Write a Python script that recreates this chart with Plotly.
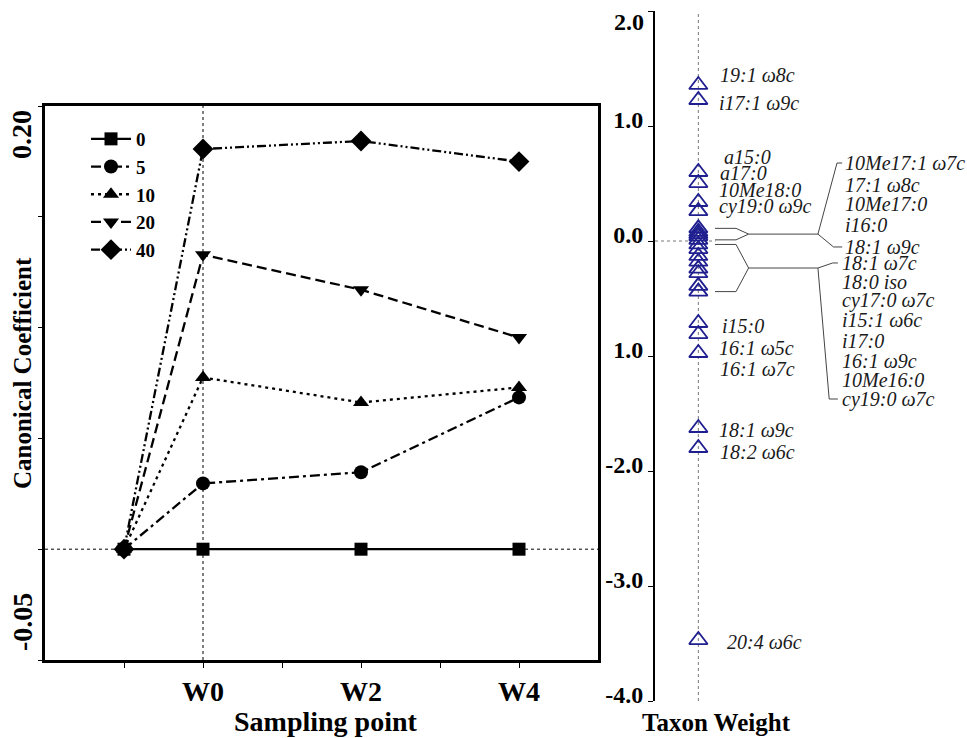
import plotly.graph_objects as go

# ---------------- Left panel data ----------------
x_positions = [-1, 0, 2, 4]
x_tick_vals = [-1, 0, 1, 2, 3, 4]
x_tick_text = ["", "W0", "", "W2", "", "W4"]
series_names = ["0", "5", "10", "20", "40"]
s0 = [0.0, 0.0, 0.0, 0.0]
s5 = [0.0, 0.0297, 0.0347, 0.0685]
s10 = [0.0, 0.0775, 0.0662, 0.0730]
s20 = [0.0, 0.1329, 0.1171, 0.0955]
s40 = [0.0, 0.1806, 0.1842, 0.1749]
y_tick_vals = [-0.05, 0.0, 0.05, 0.10, 0.15, 0.20]

# ---------------- Right panel data ----------------
# taxa labelled to the left side (next to the triangles)
left_taxa = ["19:1 ω8c", "i17:1 ω9c", "a15:0", "a17:0", "10Me18:0", "cy19:0 ω9c",
             "i15:0", "16:1 ω5c", "16:1 ω7c", "18:1 ω9c", "18:2 ω6c", "20:4 ω6c"]
left_weights = [1.357, 1.226, 0.60, 0.504, 0.339, 0.26,
                -0.713, -0.809, -0.974, -1.626, -1.80, -3.47]
left_label_y = [1.443, 1.20, 0.73, 0.59, 0.443, 0.296,
                -0.739, -0.93, -1.113, -1.643, -1.835, -3.487]
left_label_x = [1.45, 1.43, 1.55, 1.45, 1.43, 1.43,
                1.50, 1.43, 1.45, 1.43, 1.45, 1.62]

# clustered taxa near zero (labelled via brackets)
upper_taxa = ["10Me17:1 ω7c", "17:1 ω8c", "10Me17:0", "i16:0", "18:1 ω9c"]
upper_weights = [0.11, 0.08, 0.06, 0.04, 0.01]
upper_label_y = [0.678, 0.487, 0.322, 0.139, -0.052]
lower_taxa = ["18:1 ω7c", "18:0 iso", "cy17:0 ω7c", "i15:1 ω6c", "i17:0",
              "16:1 ω9c", "10Me16:0", "cy19:0 ω7c"]
lower_weights = [-0.03, -0.07, -0.13, -0.18, -0.24, -0.28, -0.39, -0.44]
lower_label_y = [-0.191, -0.357, -0.513, -0.687, -0.870, -1.043, -1.209, -1.374]

r_tick_vals = [-4, -3, -2, -1, 0, 1, 2]
r_tick_text = ["-4.0", "-3.0", "-2.0", "1.0", "0.0", "1.0", "2.0"]

FONT = "Liberation Serif"
W, H = 967, 738

fig = go.Figure()

styles = [
    (s0, "solid", "square", 13),
    (s5, "10px,4px,3px,4px", "circle", 14),
    (s10, "3px,4px", "triangle-up", 14),
    (s20, "10px,5px", "triangle-down", 14),
    (s40, "9px,3px,2px,3px,2px,3px", "diamond", 16),
]
for name, (vals, dash, sym, size) in zip(series_names, styles):
    fig.add_trace(go.Scatter(
        x=x_positions, y=vals, name=name, mode="lines+markers",
        line=dict(color="black", width=2.3, dash=dash),
        marker=dict(symbol=sym, size=size, color="black"),
        xaxis="x", yaxis="y", showlegend=True))

# Right panel triangles
all_weights = left_weights + upper_weights + lower_weights
fig.add_trace(go.Scatter(
    x=[1] * len(all_weights), y=all_weights, mode="markers",
    marker=dict(symbol="triangle-up-open", size=16, color="#1f1f8f",
                line=dict(width=1.8, color="#1f1f8f")),
    xaxis="x2", yaxis="y2", showlegend=False))

shapes = []
# left panel reference lines
shapes.append(dict(type="line", xref="x", yref="y domain", x0=0, x1=0, y0=0, y1=1,
                   line=dict(color="black", width=1, dash="dot"), layer="below"))
shapes.append(dict(type="line", xref="x domain", yref="y", x0=0, x1=1, y0=0, y1=0,
                   line=dict(color="black", width=1, dash="dot"), layer="below"))
# right panel reference lines
shapes.append(dict(type="line", xref="x2", yref="y2", x0=1, x1=1, y0=-4, y1=2,
                   line=dict(color="#777", width=1, dash="dot"), layer="below"))
shapes.append(dict(type="line", xref="x2", yref="y2", x0=0, x1=1.4, y0=0, y1=0,
                   line=dict(color="#777", width=1, dash="dot"), layer="below"))

# bracket connectors derived from cluster values and label positions
ARM0, ARM1, JOIN, STEM = 1.385, 1.87, 2.16, 3.76
def bracket(weights, labels, lab_x):
    top, bot = max(weights), min(weights)
    mid = (top + bot) / 2
    segs = [
        [(ARM0, top), (ARM1, top), (JOIN, mid)],
        [(ARM0, bot), (ARM1, bot), (JOIN, mid)],
        [(JOIN, mid), (STEM, mid)],
        [(STEM, mid), (lab_x - 0.12, labels[0]), (lab_x, labels[0])],
        [(STEM, mid), (lab_x - 0.2, labels[-1]), (lab_x, labels[-1])],
    ]
    out = []
    for seg in segs:
        path = "M " + " L ".join(f"{px},{py}" for px, py in seg)
        out.append(dict(type="path", xref="x2", yref="y2", path=path,
                        line=dict(color="#444", width=1)))
    return out

shapes += bracket(upper_weights, upper_label_y, 4.32)
shapes += bracket(lower_weights, lower_label_y, 4.22)

annotations = []
label_font = dict(family=FONT, size=20, color="#1a1a1a", style="italic")
for name, lx, ly in zip(left_taxa, left_label_x, left_label_y):
    annotations.append(dict(x=lx, y=ly, xref="x2", yref="y2", text=name, showarrow=False,
                            xanchor="left", yanchor="middle", font=label_font))
for name, ly in zip(upper_taxa, upper_label_y):
    annotations.append(dict(x=4.34, y=ly, xref="x2", yref="y2", text=name, showarrow=False,
                            xanchor="left", yanchor="middle", font=label_font))
for name, ly in zip(lower_taxa, lower_label_y):
    annotations.append(dict(x=4.27, y=ly, xref="x2", yref="y2", text=name, showarrow=False,
                            xanchor="left", yanchor="middle", font=label_font))

bold = lambda s: dict(family=FONT, size=s, color="black", weight="bold")
# top tick label of the right axis (plotly hides it at the very top edge)
top_idx = r_tick_vals.index(max(r_tick_vals))
annotations.append(dict(x=0, y=r_tick_vals[top_idx], xref="x2 domain", yref="y2",
                        text=r_tick_text[top_idx], showarrow=False, xanchor="right",
                        yanchor="middle", xshift=-9, yshift=-11, font=bold(24)))
r_tick_text_axis = [t if i != top_idx else "" for i, t in enumerate(r_tick_text)]

annotations += [
    dict(x=22 / W, y=1 - 135 / H, xref="paper", yref="paper", text="0.20", textangle=-90,
         showarrow=False, font=bold(28), xanchor="center", yanchor="middle"),
    dict(x=22 / W, y=1 - 622 / H, xref="paper", yref="paper", text="-0.05", textangle=-90,
         showarrow=False, font=bold(28), xanchor="center", yanchor="middle"),
    dict(x=22 / W, y=1 - 373 / H, xref="paper", yref="paper", text="Canonical Coefficient",
         textangle=-90, showarrow=False, font=bold(25), xanchor="center", yanchor="middle"),
    dict(x=326 / W, y=1 - 721 / H, xref="paper", yref="paper", text="Sampling point",
         showarrow=False, font=bold(28), xanchor="center", yanchor="middle"),
    dict(x=716 / W, y=1 - 722 / H, xref="paper", yref="paper", text="Taxon Weight",
         showarrow=False, font=bold(25), xanchor="center", yanchor="middle"),
]

fig.update_layout(
    width=W, height=H, margin=dict(l=0, r=0, t=0, b=0, autoexpand=False),
    paper_bgcolor="white", plot_bgcolor="white",
    font=dict(family=FONT, color="black"),
    xaxis=dict(domain=[45 / W, 598 / W], range=[-2, 5], tickvals=x_tick_vals,
               ticktext=x_tick_text, showgrid=False, zeroline=False, showline=True,
               linecolor="black", linewidth=2.5, mirror=True, ticks="outside",
               ticklen=5, tickcolor="black", tickfont=bold(28), anchor="y"),
    yaxis=dict(domain=[1 - 660 / H, 1 - 106 / H], range=[-0.05, 0.2], tickvals=y_tick_vals,
               ticktext=[""] * len(y_tick_vals), showgrid=False, zeroline=False,
               showline=True, linecolor="black", linewidth=2.5, mirror=True,
               ticks="outside", ticklen=4, tickcolor="black", anchor="x"),
    xaxis2=dict(domain=[655 / W, 1.0], range=[0, 7.2], visible=False, anchor="y2"),
    yaxis2=dict(domain=[1 - 701 / H, 1 - 11 / H], range=[-4, 2], tickvals=r_tick_vals,
                ticktext=r_tick_text_axis, showgrid=False, zeroline=False, showline=True,
                linecolor="black", linewidth=2, ticks="outside", ticklen=5,
                tickcolor="black", tickfont=bold(24), anchor="x2",
                ticklabelshift=-6),
    legend=dict(x=86 / W, y=1 - 120 / H, xanchor="left", yanchor="top",
                bgcolor="rgba(0,0,0,0)", font=bold(19), itemwidth=40, tracegroupgap=0),
    shapes=shapes, annotations=annotations,
)

fig.write_html("out.html")
